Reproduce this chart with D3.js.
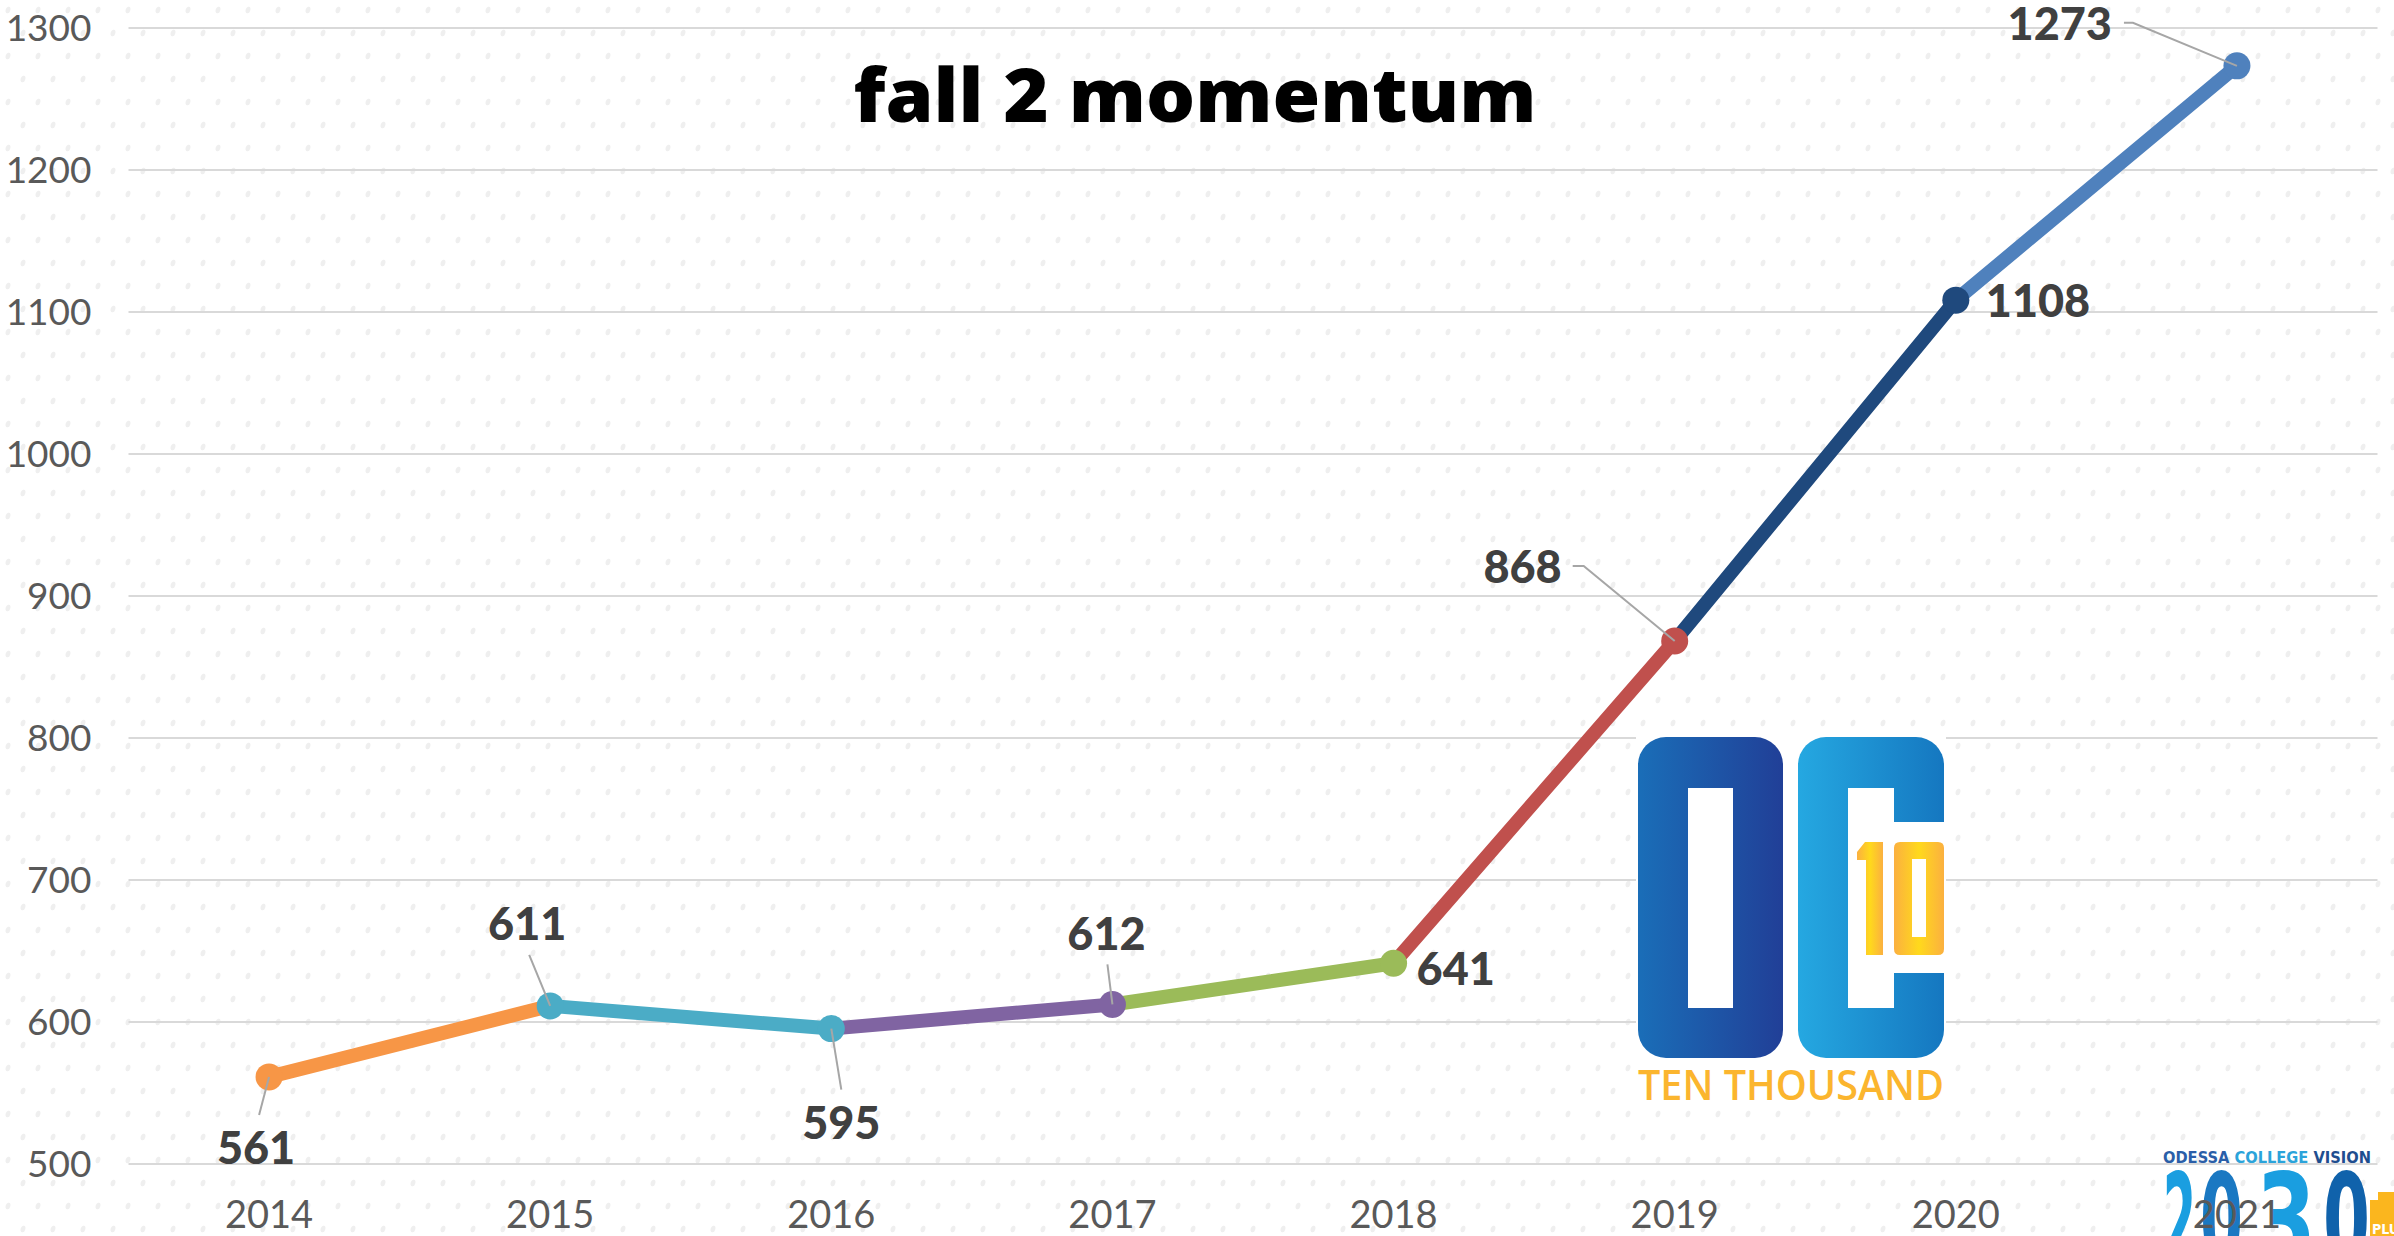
<!DOCTYPE html>
<html>
<head>
<meta charset="utf-8">
<script src="https://cdn.jsdelivr.net/npm/d3@7"></script>
<style>
html,body{margin:0;padding:0;background:#fff;overflow:hidden}
svg{display:block}
</style>
</head>
<body>
<svg id="chart" width="2394" height="1236"></svg>
<script>
// ---- data ----
const years = ["2014","2015","2016","2017","2018","2019","2020","2021"];
const values = [561, 611, 595, 612, 641, 868, 1108, 1273];
const yTicks = [500, 600, 700, 800, 900, 1000, 1100, 1200, 1300];
const segmentColors = ["#F79646","#4BACC6","#8064A2","#9BBB59","#C0504D","#1F497D","#4F81BD"];
const pointColors = ["#F79646","#4BACC6","#4BACC6","#8064A2","#9BBB59","#C0504D","#1F497D","#4F81BD"];
const title = "fall 2 momentum";

// ---- label layout (offsets from each point) ----
const labelLayout = [
  {anchor:"middle", dx:-13,  dy:87,  leader:[[-10,38]]},
  {anchor:"middle", dx:-23,  dy:-66, leader:[[-21,-51]]},
  {anchor:"middle", dx:10,   dy:110, leader:[[10,61]]},
  {anchor:"middle", dx:-6,   dy:-54, leader:[[-5,-40]]},
  {anchor:"start",  dx:23,   dy:22,  leader:null},
  {anchor:"end",    dx:-113, dy:-58, leader:[[-102,-75],[-91,-75]]},
  {anchor:"start",  dx:30,   dy:17,  leader:null},
  {anchor:"end",    dx:-125, dy:-26, leader:[[-113,-43],[-104,-43]]}
];

const W = 2394, H = 1236;
const svg = d3.select("#chart");
const defs = svg.append("defs");

// background dot texture
const pat = defs.append("pattern").attr("id","dots").attr("patternUnits","userSpaceOnUse")
  .attr("width",30).attr("height",46);
pat.append("ellipse").attr("cx",8).attr("cy",10).attr("rx",2.3).attr("ry",3.4)
  .attr("transform","rotate(18 8 10)").attr("fill","#e9e9e9");
pat.append("ellipse").attr("cx",23).attr("cy",33).attr("rx",2.3).attr("ry",3.4)
  .attr("transform","rotate(18 23 33)").attr("fill","#e9e9e9");
svg.append("rect").attr("width",W).attr("height",H).attr("fill","#fff");
svg.append("rect").attr("width",W).attr("height",H).attr("fill","url(#dots)").attr("opacity",0.75);

// scales
const x = d3.scaleBand().domain(years).range([128.5, 2377.5]).paddingInner(0).paddingOuter(0);
const cx = d => x(d) + x.bandwidth()/2;
const y = d3.scaleLinear().domain([500, 1300]).range([1163.5, 27.5]);

const pts = years.map((yr,i) => ({year: yr, value: values[i], i}));

// gridlines + y axis
const yAxis = svg.append("g").attr("transform","translate(128.5,0)")
  .call(d3.axisLeft(y).tickValues(yTicks).tickFormat(d3.format("d"))
    .tickSize(-(2377.5-128.5)).tickPadding(37));
yAxis.select(".domain").remove();
yAxis.selectAll(".tick line").attr("stroke","#d9d9d9").attr("stroke-width",2);
yAxis.selectAll(".tick text").attr("fill","#595959")
  .style("font-family","Lato, 'Open Sans', sans-serif").style("font-size","37px")
  .attr("dy","0.36em");

// logos (behind chart marks, above gridlines)
const logo = svg.append("g");
const gO = defs.append("linearGradient").attr("id","gO");
gO.append("stop").attr("offset","0").attr("stop-color","#1a6eb8");
gO.append("stop").attr("offset","1").attr("stop-color","#213f97");
const gC = defs.append("linearGradient").attr("id","gC");
gC.append("stop").attr("offset","0").attr("stop-color","#25a8e1");
gC.append("stop").attr("offset","1").attr("stop-color","#1577c0");
const gY = defs.append("linearGradient").attr("id","gY");
gY.append("stop").attr("offset","0").attr("stop-color","#fbb040");
gY.append("stop").attr("offset","0.5").attr("stop-color","#ffd91c");
gY.append("stop").attr("offset","1").attr("stop-color","#fbb040");

logo.append("rect").attr("x",1636).attr("y",737).attr("width",310).attr("height",368).attr("fill","#fff");
logo.append("rect").attr("x",1638).attr("y",737).attr("width",145).attr("height",321).attr("rx",28).attr("fill","url(#gO)");
logo.append("rect").attr("x",1688).attr("y",788).attr("width",45).attr("height",220).attr("fill","#fff");
logo.append("rect").attr("x",1798).attr("y",737).attr("width",146).attr("height",321).attr("rx",28).attr("fill","url(#gC)");
logo.append("rect").attr("x",1848).attr("y",788).attr("width",46).attr("height",220).attr("fill","#fff");
logo.append("rect").attr("x",1894).attr("y",822).attr("width",52).attr("height",151).attr("fill","#fff");
// "10"
logo.append("path").attr("fill","url(#gY)")
  .attr("d","M1865,842 L1883,842 L1883,955 L1866,955 L1866,860 L1857,860 L1857,852 Z");
logo.append("path").attr("fill","url(#gY)").attr("fill-rule","evenodd")
  .attr("d","M1900,842 L1938,842 Q1944,842 1944,848 L1944,949 Q1944,955 1938,955 L1900,955 Q1894,955 1894,949 L1894,848 Q1894,842 1900,842 Z M1912,859 L1912,937 L1926,937 L1926,859 Z");
logo.append("text").attr("x",1638).attr("y",1100).text("TEN THOUSAND")
  .attr("textLength",306).attr("lengthAdjust","spacingAndGlyphs")
  .style("font-family","'Open Sans', Lato, sans-serif").style("font-weight",600)
  .style("font-size","41px").attr("fill","#fbb52e");

// Odessa College Vision 2030 logo
const lg2 = svg.append("g");
const vt = lg2.append("text").attr("x",2163).attr("y",1163)
  .attr("textLength",208).attr("lengthAdjust","spacingAndGlyphs")
  .style("font-family","'DejaVu Sans Condensed', 'Open Sans', sans-serif").style("font-weight",700)
  .style("font-size","15px");
vt.append("tspan").text("ODESSA ").attr("fill","#2a5ea8");
vt.append("tspan").text("COLLEGE ").attr("fill","#2ba3da");
vt.append("tspan").text("VISION").attr("fill","#1f4e8f");
const digits = [{t:"2",x:2163,w:33,c:"#1a9ee0"},{t:"0",x:2200,w:43,c:"#1a78c2"},{t:"3",x:2256,w:60,c:"#1a9ee0"},{t:"0",x:2323,w:47,c:"#1062ab"}];
digits.forEach(d => {
  lg2.append("text").attr("x",d.x).attr("y",1264).text(d.t)
    .attr("textLength",d.w).attr("lengthAdjust","spacingAndGlyphs")
    .style("font-family","'DejaVu Sans Condensed', sans-serif").style("font-weight",700)
    .style("font-size","126px").attr("fill",d.c);
});
lg2.append("rect").attr("x",2370).attr("y",1200).attr("width",24).attr("height",36).attr("fill","#fbb61e");
lg2.append("rect").attr("x",2378).attr("y",1192).attr("width",16).attr("height",12).attr("fill","#fbb61e");
lg2.append("text").attr("x",2372).attr("y",1234).text("PLU")
  .style("font-family","'DejaVu Sans Condensed', sans-serif").style("font-weight",700)
  .style("font-size","14px").attr("fill","#fff");

// x axis labels
const xAxis = svg.append("g").attr("transform","translate(0,1163.5)")
  .call(d3.axisBottom(x).tickSize(0).tickPadding(38));
xAxis.select(".domain").remove();
xAxis.selectAll(".tick text").attr("fill","#595959")
  .style("font-family","Lato, 'Open Sans', sans-serif").style("font-size","38px");

// segments
const line = d3.line().x(d => cx(d.year)).y(d => y(d.value));
const segs = d3.range(pts.length - 1).map(i => ({i, pair:[pts[i], pts[i+1]]}));
svg.append("g").selectAll("path").data(segs).join("path")
  .attr("d", d => line(d.pair))
  .attr("fill","none").attr("stroke", d => segmentColors[d.i])
  .attr("stroke-width",14).attr("stroke-linecap","round");

// markers
svg.append("g").selectAll("circle").data(pts).join("circle")
  .attr("cx", d => cx(d.year)).attr("cy", d => y(d.value)).attr("r",13.5)
  .attr("fill", d => pointColors[d.i]);

// leader lines
svg.append("g").selectAll("polyline").data(pts.filter(d => labelLayout[d.i].leader)).join("polyline")
  .attr("points", d => {
    const px = cx(d.year), py = y(d.value);
    const arr = labelLayout[d.i].leader.map(p => [px+p[0], py+p[1]]);
    arr.push([px, py]);
    return arr.map(p => p.join(",")).join(" ");
  })
  .attr("fill","none").attr("stroke","#a6a6a6").attr("stroke-width",2);

// data labels
svg.append("g").selectAll("text").data(pts).join("text")
  .attr("x", d => cx(d.year) + labelLayout[d.i].dx)
  .attr("y", d => y(d.value) + labelLayout[d.i].dy)
  .attr("text-anchor", d => labelLayout[d.i].anchor)
  .text(d => d.value)
  .attr("fill","#404040")
  .style("font-family","Lato, 'Open Sans', sans-serif").style("font-weight",900)
  .style("font-size","45px");

// title
svg.append("text").attr("x",1195).attr("y",122).attr("text-anchor","middle")
  .text(title).attr("textLength",683).attr("lengthAdjust","spacingAndGlyphs")
  .style("font-family","'Open Sans', Lato, sans-serif").style("font-weight",800)
  .style("font-size","74px").attr("fill","#000");
</script>
</body>
</html>
